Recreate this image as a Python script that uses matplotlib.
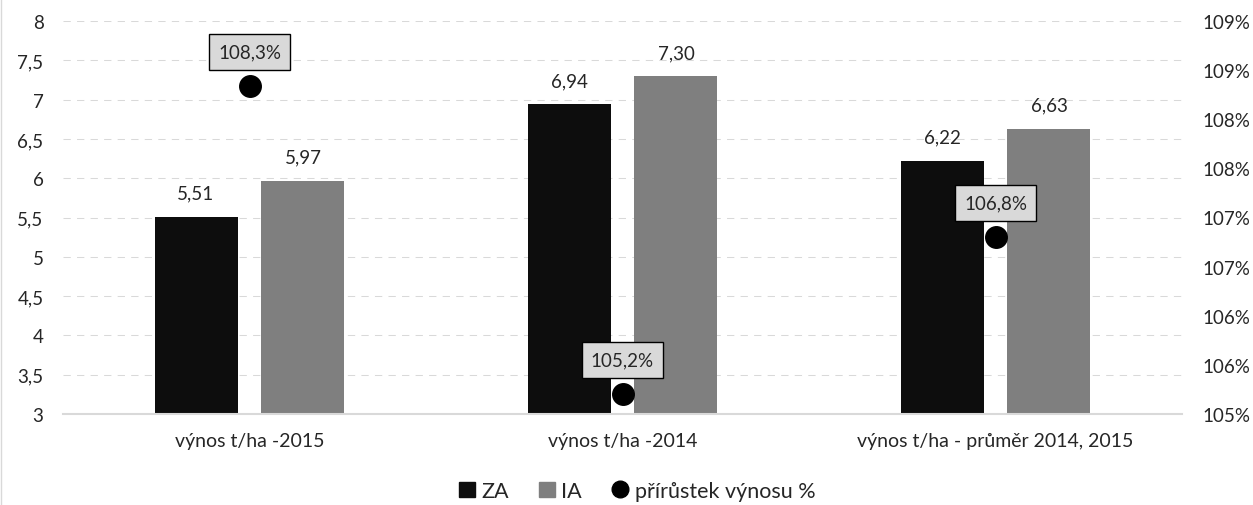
import matplotlib.pyplot as plt
from matplotlib.patches import Patch
from matplotlib.lines import Line2D
import numpy as np

categories = ['výnos t/ha -2015', 'výnos t/ha -2014', 'výnos t/ha - průměr 2014, 2015']
za = [5.51, 6.94, 6.22]
ia = [5.97, 7.30, 6.63]
growth = [108.34, 105.2, 106.8]
growth_labels = ['108,3%', '105,2%', '106,8%']

left_ticks = np.arange(3, 8.01, 0.5)
right_ticks = np.arange(105, 109.01, 0.5)

plt.rcParams['font.family'] = ['Lato', 'DejaVu Sans']
plt.rcParams['font.size'] = 13.5

W, H = 1253, 506
fig = plt.figure(figsize=(W / 100, H / 100), dpi=100)
ax = fig.add_axes([63 / W, 1 - 415 / H, (1182 - 63) / W, (415 - 22) / H])

x = np.arange(len(categories))
bw = 0.2225
off = 0.1434
grid_c = '#d9d9d9'
txt_c = '#262626'

for t in left_ticks[1:]:
    ax.axhline(t, color=grid_c, lw=0.75, ls=(0, (7, 6)), zorder=0)

ax.bar(x - off, za, bw, color='#0d0d0d', zorder=2)
ax.bar(x + off, ia, bw, color='#7f7f7f', zorder=2)

for xs, vals in [(x - off, za), (x + off, ia)]:
    for xi, v in zip(xs, vals):
        ax.annotate(f'{v:.2f}'.replace('.', ','), (xi, v), xytext=(0, 17), textcoords='offset points',
                    ha='center', va='center', fontsize=13.5, color=txt_c)

ax.set_xlim(-0.5, len(categories) - 0.5)
ax.set_ylim(3, 8)
ax.set_yticks(left_ticks)
ax.set_yticklabels([f'{t:g}'.replace('.', ',') for t in left_ticks])
ax.set_xticks(x)
ax.set_xticklabels(categories)
ax.tick_params(axis='y', length=0, pad=14, labelsize=13.5, labelcolor=txt_c)
ax.tick_params(axis='x', length=0, pad=13, labelsize=14, labelcolor=txt_c)
for s in ['top', 'right', 'left']:
    ax.spines[s].set_visible(False)
ax.spines['bottom'].set_color(grid_c)
ax.spines['bottom'].set_linewidth(1.5)

ax2 = ax.twinx()
ax2.set_ylim(105, 109)
ax2.set_yticks(right_ticks)
ax2.set_yticklabels([f'{int(np.floor(t + 0.5))}%' for t in right_ticks])
ax2.tick_params(axis='y', length=0, pad=15, labelsize=13.5, labelcolor=txt_c)
for s in ax2.spines.values():
    s.set_visible(False)

ax2.plot(x, growth, 'o', color='black', markersize=15.5, ls='none', zorder=3)
for xi, v, lab in zip(x, growth, growth_labels):
    ax2.annotate(lab, (xi, v), xytext=(0, 24.5), textcoords='offset points',
                 ha='center', va='center', fontsize=13.5, color=txt_c,
                 bbox=dict(boxstyle='square,pad=0.5', fc='#d9d9d9', ec='black', lw=1))

handles = [Patch(color='#0d0d0d'), Patch(color='#7f7f7f'),
           Line2D([], [], marker='o', color='black', ls='none', markersize=12)]
fig.legend(handles, ['ZA', 'IA', 'přírůstek výnosu %'], loc='center',
           bbox_to_anchor=(637 / W, 1 - 492 / H), ncol=3, frameon=False,
           fontsize=15.5, handlelength=0.75, handleheight=0.75, handletextpad=0.3,
           columnspacing=1.4, labelcolor=txt_c)

fig.add_artist(Line2D([0.5 / W, 0.5 / W], [0, 1], color=grid_c, lw=1))

fig.savefig('out.png', dpi=100)
